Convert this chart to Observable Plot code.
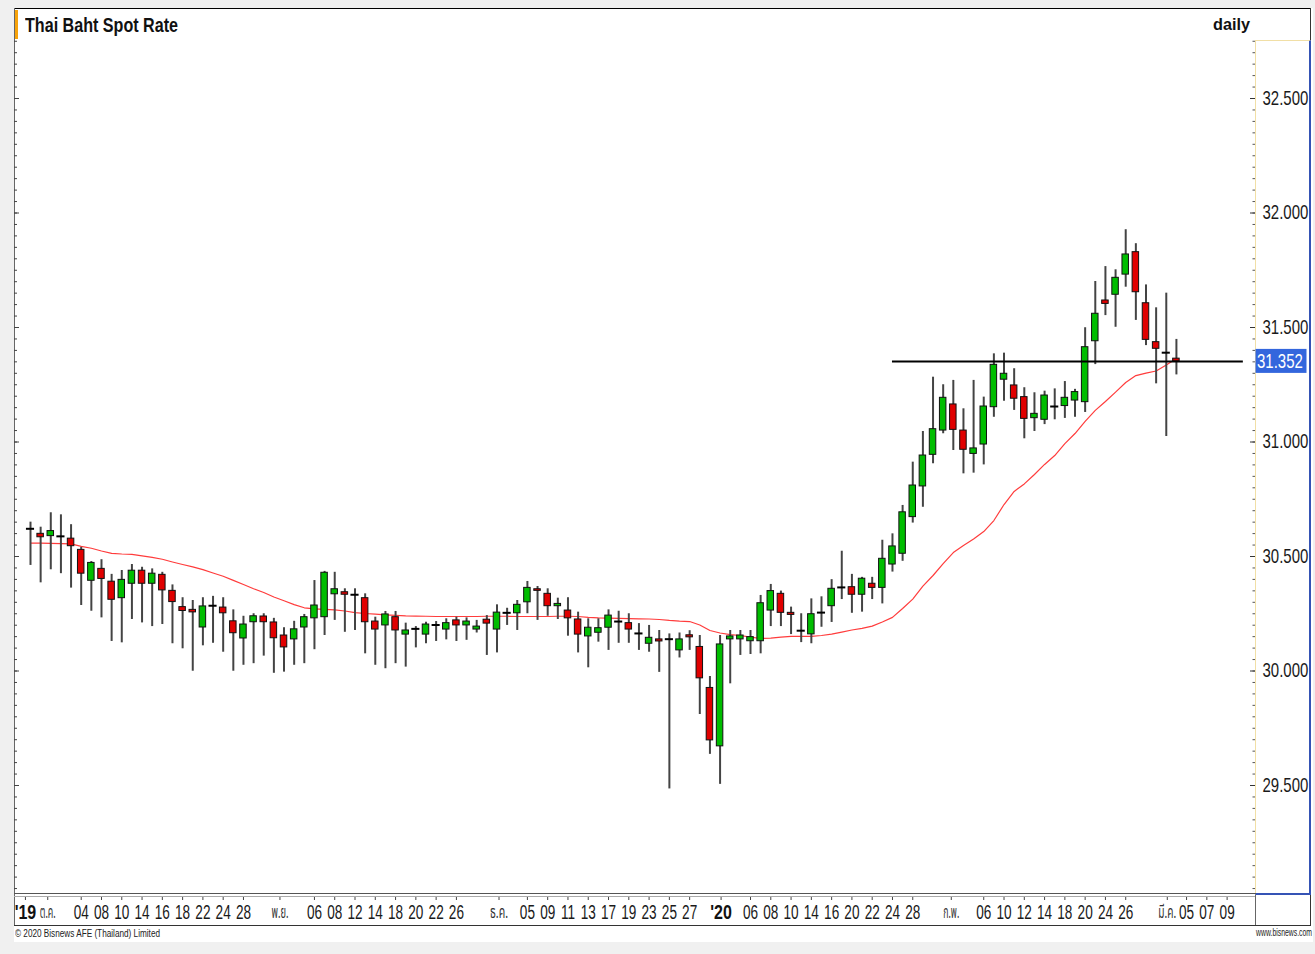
<!DOCTYPE html>
<html>
<head>
<meta charset="utf-8">
<script src="https://cdn.jsdelivr.net/npm/d3@7"></script>
<script src="https://cdn.jsdelivr.net/npm/@observablehq/plot@0.6"></script>
<style>
html, body { margin: 0; padding: 0; background: #f0f0f0; }
body { width: 1315px; height: 954px; position: relative; overflow: hidden; font-family: 'Liberation Sans', Arial, sans-serif; }
.abs { position: absolute; }
.txt { position: absolute; white-space: nowrap; transform-origin: 0 0; color: #111; }
</style>
</head>
<body>
<div class="abs" style="left:14px;top:8px;width:1299px;height:934px;background:#fff;"></div>
<div class="abs" style="left:14px;top:8px;width:1297px;height:1px;background:#000;"></div>
<div class="abs" style="left:14px;top:8px;width:1px;height:918px;background:#666;"></div>
<div class="abs" style="left:1310px;top:8px;width:1px;height:918px;background:#333;"></div>
<div class="abs" style="left:15px;top:10px;width:3px;height:29px;background:#f7a30a;"></div>
<div class="abs" style="left:1255px;top:40px;width:56px;height:855px;box-sizing:border-box;border-top:1px solid #f1dfa6;border-left:1px solid #f1dfa6;border-right:2px solid #3553b5;border-bottom:2px solid #3553b5;"></div>
<div class="abs" style="left:14px;top:893px;width:1242px;height:1px;background:#555;"></div>
<div class="abs" style="left:14px;top:896px;width:1242px;height:1px;background:#aaa;"></div>
<div class="abs" style="left:14px;top:925px;width:1297px;height:1px;background:#333;"></div>
<div class="abs" style="left:1255px;top:895px;width:1px;height:30px;background:#666;"></div>

<div id="title" class="txt" style="left:25px;top:14.8px;font-weight:bold;font-size:20px;line-height:20px;">Thai Baht Spot Rate</div>
<div id="daily" class="txt" style="left:1213px;top:16.3px;font-weight:bold;font-size:17px;line-height:17px;">daily</div>
<div id="copy" class="txt" style="left:15px;top:928.2px;font-size:11px;line-height:11px;color:#222;">© 2020 Bisnews AFE (Thailand) Limited</div>
<div id="www" class="txt" style="left:1256px;top:928px;font-size:10px;line-height:10px;color:#222;">www.bisnews.com</div>

<script>
// ---------- data ----------
const open = [30.621,30.599,30.589,30.588,30.578,30.529,30.394,30.446,30.390,30.318,
30.381,30.438,30.381,30.420,30.350,30.279,30.267,30.190,30.285,30.277,
30.217,30.142,30.213,30.238,30.212,30.155,30.138,30.190,30.230,30.235,
30.335,30.344,30.333,30.318,30.216,30.199,30.235,30.159,30.184,30.159,
30.201,30.181,30.221,30.199,30.181,30.224,30.181,30.254,30.252,30.300,
30.357,30.337,30.283,30.264,30.225,30.151,30.167,30.189,30.216,30.209,
30.164,30.119,30.138,30.139,30.090,30.156,30.105,29.926,29.671,30.138,
30.138,30.130,30.130,30.264,30.337,30.254,30.176,30.160,30.255,30.283,
30.365,30.366,30.333,30.381,30.363,30.465,30.512,30.672,30.806,30.944,
31.050,31.164,31.050,30.948,30.989,31.152,31.272,31.247,31.196,31.104,
31.097,31.155,31.157,31.181,31.174,31.440,31.618,31.643,31.731,31.829,
31.606,31.436,31.390,31.364];

const high = [30.650,30.628,30.691,30.682,30.639,30.540,30.478,30.486,30.422,30.439,
30.465,30.453,30.446,30.431,30.376,30.320,30.308,30.320,30.326,30.320,
30.267,30.239,30.250,30.250,30.230,30.189,30.217,30.247,30.395,30.435,
30.431,30.359,30.359,30.337,30.235,30.260,30.260,30.209,30.194,30.213,
30.216,30.228,30.235,30.232,30.221,30.242,30.289,30.274,30.308,30.391,
30.369,30.359,30.318,30.320,30.257,30.228,30.228,30.267,30.261,30.250,
30.207,30.199,30.177,30.162,30.166,30.176,30.155,29.976,30.155,30.177,
30.177,30.177,30.330,30.378,30.349,30.279,30.250,30.315,30.324,30.399,
30.523,30.422,30.409,30.409,30.571,30.599,30.723,30.912,31.046,31.283,
31.250,31.269,31.145,31.269,31.196,31.385,31.388,31.320,31.237,31.215,
31.222,31.232,31.264,31.230,31.499,31.701,31.766,31.752,31.927,31.866,
31.686,31.586,31.650,31.448];

const low = [30.461,30.385,30.442,30.425,30.362,30.286,30.261,30.232,30.129,30.123,
30.225,30.210,30.194,30.203,30.119,30.097,29.999,30.110,30.121,30.082,
29.999,30.025,30.032,30.065,29.990,29.995,30.025,30.032,30.093,30.155,
30.221,30.169,30.177,30.075,30.025,30.010,30.032,30.017,30.101,30.119,
30.129,30.136,30.129,30.134,30.166,30.068,30.079,30.199,30.177,30.250,
30.221,30.239,30.225,30.152,30.079,30.014,30.126,30.090,30.121,30.121,
30.090,30.082,29.994,29.485,30.057,30.090,29.810,29.636,29.505,29.944,
30.068,30.072,30.075,30.194,30.194,30.159,30.124,30.119,30.191,30.212,
30.312,30.252,30.257,30.312,30.293,30.432,30.479,30.646,30.715,30.905,
31.036,30.963,30.861,30.864,30.900,31.108,31.178,31.138,31.014,31.046,
31.076,31.097,31.103,31.108,31.129,31.338,31.552,31.501,31.676,31.531,
31.421,31.254,31.024,31.293];

const close = [30.621,30.584,30.611,30.588,30.545,30.425,30.472,30.402,30.311,30.398,
30.438,30.381,30.425,30.352,30.301,30.262,30.256,30.282,30.285,30.252,
30.165,30.203,30.239,30.213,30.143,30.103,30.182,30.235,30.286,30.429,
30.357,30.333,30.333,30.213,30.181,30.247,30.177,30.177,30.184,30.203,
30.201,30.209,30.199,30.216,30.194,30.207,30.255,30.254,30.289,30.363,
30.350,30.283,30.293,30.230,30.159,30.189,30.187,30.242,30.216,30.181,
30.164,30.145,30.129,30.139,30.138,30.147,29.968,29.697,30.116,30.151,
30.155,30.148,30.296,30.349,30.254,30.245,30.176,30.248,30.255,30.359,
30.365,30.333,30.403,30.363,30.490,30.544,30.693,30.810,30.941,31.056,
31.193,31.053,30.966,30.972,31.155,31.337,31.298,31.189,31.101,31.123,
31.203,31.155,31.193,31.218,31.414,31.560,31.603,31.717,31.819,31.654,
31.446,31.407,31.390,31.352];

// moving average line
const movingAvg = [30.558,30.558,30.557,30.556,30.555,30.544,30.536,30.524,30.514,30.511,
30.509,30.503,30.496,30.488,30.476,30.465,30.455,30.443,30.428,30.414,
30.396,30.378,30.359,30.343,30.323,30.307,30.290,30.276,30.271,30.269,
30.267,30.262,30.255,30.251,30.248,30.245,30.243,30.241,30.240,30.239,
30.238,30.238,30.238,30.238,30.238,30.239,30.239,30.239,30.238,30.238,
30.238,30.238,30.239,30.239,30.238,30.234,30.232,30.231,30.230,30.229,
30.228,30.227,30.225,30.221,30.218,30.216,30.201,30.177,30.166,30.159,
30.155,30.148,30.142,30.144,30.148,30.151,30.151,30.151,30.155,30.161,
30.170,30.179,30.186,30.196,30.214,30.234,30.273,30.314,30.371,30.417,
30.469,30.517,30.548,30.576,30.609,30.657,30.727,30.784,30.817,30.858,
30.902,30.941,30.993,31.037,31.090,31.138,31.177,31.218,31.260,31.290,
31.301,31.310,31.336,31.365];

// horizontal level drawn on the chart
const levelValue = 31.352;
const levelFrom = 85.0;
const levelTo = 119.6;

// axis labels
const yTicks = [29.5, 30.0, 30.5, 31.0, 31.5, 32.0, 32.5];
const minorTicks = d3.range(581, 656).map(k => k / 20);
const dayIdx = [5,7,9,11,13,15,17,19,21, 28,30,32,34,36,38,40,42, 49,51,53,55,57,59,61,63,65, 71,73,75,77,79,81,83,85,87, 94,96,98,100,102,104,106,108, 114,116,118];
const dayText = ["04","08","10","14","16","18","22","24","28", "06","08","12","14","18","20","22","26", "05","09","11","13","17","19","23","25","27", "06","08","10","14","16","20","22","24","28", "06","10","12","14","18","20","24","26", "05","07","09"];
const monthIdx = [1.7, 24.6, 46.2, 90.8, 112.1];
const monthText = ["ต.ค.", "พ.ย.", "ธ.ค.", "ก.พ.", "มี.ค."];
const yearIdx = [-0.5, 68.1];
const yearText = ["'19", "'20"];

// ---------- build ----------
const FONT = "'Liberation Sans', Arial, sans-serif";
const THAI = "'Noto Sans Thai', 'Noto Sans Thai UI', Tahoma, 'DejaVu Sans', sans-serif";
const W = 1315, H = 886, ML = 14, MR = 61, MT = 0, MB = 33;
const upColor = "#00bd00", downColor = "#e00000";
const bw = 0.32;
const monthWidths = [16, 17, 18, 16, 18];

const candles = open.map((o, i) => ({i, open: o, high: high[i], low: low[i], close: close[i]}));
const maData = movingAvg.map((v, i) => ({i, v}));
const days = dayIdx.map((i, k) => ({i, t: dayText[k]}));
const months = monthIdx.map((i, k) => ({i, t: monthText[k]}));
const years = yearIdx.map((i, k) => ({i, t: yearText[k]}));
const allTicks = dayIdx.concat(monthIdx, yearIdx);

const chart = Plot.plot({
  width: W, height: H,
  marginLeft: ML, marginRight: MR, marginTop: MT, marginBottom: MB,
  style: {background: "transparent", fontFamily: FONT, overflow: "visible", color: "#1a1a1a"},
  x: {domain: [-1.578, 120.7]},
  y: {domain: [29.0284, 32.7533]},
  marks: [
    Plot.axisY({anchor: "left", ticks: minorTicks, tickSize: 3, insetLeft: 3, fill: "none", stroke: "#444", label: null}),
    Plot.axisY({anchor: "left", ticks: yTicks, tickSize: 5, insetLeft: 5, fill: "none", stroke: "#444", label: null}),
    Plot.axisY({anchor: "right", ticks: minorTicks, tickSize: 2.5, insetRight: 2.5, fill: "none", stroke: "#555", label: null}),
    Plot.axisY({anchor: "right", ticks: yTicks, tickSize: 5, insetRight: 5, tickPadding: 8,
      tickFormat: d3.format(".3f"), fontSize: 20, fill: "#1a1a1a", stroke: "#333", label: null}),
    Plot.axisX({anchor: "bottom", ticks: allTicks, tickSize: 3, dy: 4, fill: "none", stroke: "#444", label: null}),
    Plot.line(maData, {x: "i", y: "v", stroke: "#ff3c3c", strokeWidth: 1.2}),
    Plot.ruleX(candles, {x: "i", y1: "low", y2: "high", stroke: "#444", strokeWidth: 2}),
    Plot.rect(candles.filter(d => d.open !== d.close), {
      x1: d => d.i - bw, x2: d => d.i + bw, y1: "open", y2: "close",
      fill: d => d.close > d.open ? upColor : downColor, stroke: "#111", strokeWidth: 1}),
    Plot.ruleY(candles.filter(d => d.open === d.close), {
      y: "close", x1: d => d.i - 0.4, x2: d => d.i + 0.4, stroke: "#000", strokeWidth: 2}),
    Plot.ruleY([{v: levelValue, a: levelFrom, b: levelTo}], {y: "v", x1: "a", x2: "b", stroke: "#000", strokeWidth: 2}),
    Plot.text(days, {x: "i", text: "t", frameAnchor: "bottom", dy: 25, lineAnchor: "bottom", fontSize: 20, fill: "#1a1a1a"}),
    Plot.text(years, {x: "i", text: "t", frameAnchor: "bottom", dy: 25, lineAnchor: "bottom", fontSize: 20, fontWeight: "bold", fill: "#111"}),
    Plot.text(months, {x: "i", text: "t", frameAnchor: "bottom", dy: 24, lineAnchor: "bottom", fontSize: 17, fontFamily: THAI, fill: "#333"})
  ]
});
chart.style.position = "absolute";
chart.style.left = "0px";
chart.style.top = "40px";
document.body.appendChild(chart);

// last value box on the price axis
const yPix = chart.scale("y").apply(levelValue);
const xr = W - MR;
const g = d3.select(chart).append("g");
g.append("rect").attr("x", xr + 1.5).attr("y", yPix - 12).attr("width", 51).attr("height", 24).attr("fill", "#3366dd");
g.append("text").attr("x", xr + 3).attr("y", yPix).attr("dy", "0.36em").attr("fill", "#fff")
  .attr("text-anchor", "start")
  .attr("font-size", 20).attr("font-family", FONT).text(d3.format(".3f")(levelValue));

// condense text like the original narrow face (horizontal scale about each text's anchor)
function squeeze(el, f) {
  const t = el.getAttribute("transform");
  if (t) {
    el.setAttribute("transform", t + ` scale(${f},1)`);
  } else {
    const x = +(el.getAttribute("x") || 0);
    el.setAttribute("transform", `translate(${x},0) scale(${f},1) translate(${-x},0)`);
  }
}
chart.querySelectorAll("text").forEach(el => {
  const s = el.textContent;
  if (/^\d+\.\d{3}$/.test(s)) squeeze(el, 0.75);
  else if (/^\d\d$/.test(s)) squeeze(el, 0.68);
  else if (/^'\d\d$/.test(s)) squeeze(el, 0.8);
  else {
    const k = monthText.indexOf(s);
    if (k >= 0) squeeze(el, monthWidths[k] / el.getComputedTextLength());
  }
});
function fitHtml(id, target) {
  const el = document.getElementById(id);
  const w = el.getBoundingClientRect().width;
  el.style.transform = `scaleX(${target / w})`;
}
fitHtml("title", 153);
fitHtml("daily", 37);
fitHtml("copy", 145);
fitHtml("www", 56);
</script>
</body>
</html>
